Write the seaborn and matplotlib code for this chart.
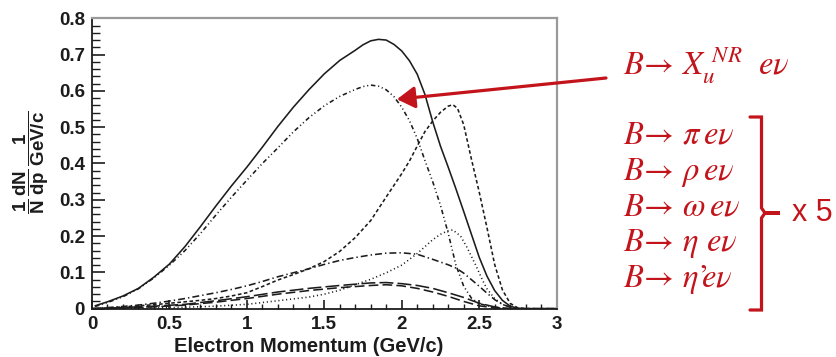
import numpy as np
import pandas as pd
import seaborn as sns
import matplotlib
matplotlib.use("Agg")
import matplotlib.pyplot as plt
from matplotlib.lines import Line2D

# ---- spectra: electron momentum (GeV/c) vs normalised yield ----
total_x = [0.02, 0.1, 0.2, 0.3, 0.4, 0.5, 0.6, 0.7, 0.8, 0.9, 1.0, 1.1, 1.2, 1.3, 1.4,
           1.5, 1.6, 1.7, 1.75, 1.8, 1.85, 1.9, 1.95, 2.0, 2.05, 2.1, 2.15, 2.2, 2.25,
           2.3, 2.35, 2.4, 2.45, 2.5, 2.55, 2.6, 2.65, 2.7, 2.75, 2.8, 3.0]
total_y = [0.008, 0.019, 0.035, 0.056, 0.087, 0.123, 0.171, 0.226, 0.283, 0.338, 0.39,
           0.445, 0.502, 0.555, 0.603, 0.647, 0.684, 0.712, 0.727, 0.738, 0.742, 0.740,
           0.728, 0.71, 0.683, 0.646, 0.59, 0.515, 0.448, 0.39, 0.33, 0.268, 0.205, 0.142,
           0.09, 0.05, 0.023, 0.007, 0.001, 0.0, 0.0]

xu_nr_x = [0.02, 0.1, 0.2, 0.3, 0.4, 0.5, 0.6, 0.7, 0.8, 0.9, 1.0, 1.1, 1.2, 1.3, 1.4, 1.5,
           1.6, 1.7, 1.75, 1.8, 1.85, 1.9, 1.95, 2.0, 2.05, 2.1, 2.15, 2.2, 2.25, 2.3, 2.35,
           2.4, 2.45, 2.5, 2.6, 2.7, 3.0]
xu_nr_y = [0.006, 0.017, 0.033, 0.055, 0.085, 0.12, 0.16, 0.207, 0.258, 0.307, 0.354,
           0.4, 0.443, 0.487, 0.526, 0.559, 0.585, 0.604, 0.612, 0.616, 0.613, 0.603,
           0.584, 0.555, 0.518, 0.469, 0.408, 0.35, 0.285, 0.208, 0.12, 0.062, 0.029,
           0.014, 0.003, 0.0, 0.0]

rho_x = [0.0, 0.1, 0.2, 0.3, 0.4, 0.5, 0.6, 0.7, 0.8, 0.9, 1.0, 1.1, 1.2, 1.3, 1.4, 1.5,
         1.6, 1.7, 1.8, 1.9, 2.0, 2.05, 2.1, 2.15, 2.2, 2.25, 2.3, 2.33, 2.36, 2.4, 2.45,
         2.5, 2.55, 2.6, 2.65, 2.7, 2.75, 2.8, 3.0]
rho_y = [0.0, 0.002, 0.005, 0.008, 0.011, 0.015, 0.019, 0.023, 0.028, 0.035, 0.044, 0.061,
         0.079, 0.094, 0.11, 0.13, 0.158, 0.196, 0.243, 0.308, 0.372, 0.407, 0.448, 0.488,
         0.517, 0.541, 0.558, 0.562, 0.552, 0.507, 0.412, 0.322, 0.224, 0.122, 0.052,
         0.015, 0.002, 0.0, 0.0]

omega_x = [0.0, 0.1, 0.2, 0.3, 0.4, 0.5, 0.6, 0.7, 0.8, 0.9, 1.0, 1.1, 1.2, 1.3, 1.4, 1.5,
           1.6, 1.7, 1.8, 1.9, 2.0, 2.1, 2.2, 2.3, 2.35, 2.4, 2.45, 2.5, 2.55, 2.6, 2.65,
           2.7, 2.75, 3.0]
omega_y = [0.0, 0.003, 0.006, 0.01, 0.015, 0.021, 0.028, 0.036, 0.044, 0.053, 0.063, 0.075,
           0.088, 0.099, 0.11, 0.122, 0.133, 0.141, 0.148, 0.153, 0.154, 0.15, 0.136,
           0.121, 0.112, 0.098, 0.08, 0.062, 0.043, 0.025, 0.012, 0.004, 0.0, 0.0]

pi_x = [0.0, 0.2, 0.4, 0.6, 0.8, 1.0, 1.2, 1.4, 1.5, 1.6, 1.7, 1.8, 1.9, 2.0, 2.1, 2.2,
        2.25, 2.3, 2.33, 2.38, 2.42, 2.48, 2.52, 2.55, 2.6, 2.65, 2.7, 2.75, 3.0]
pi_y = [0.0, 0.001, 0.002, 0.004, 0.007, 0.012, 0.022, 0.032, 0.04, 0.051, 0.066, 0.081,
        0.099, 0.12, 0.152, 0.19, 0.205, 0.215, 0.217, 0.2, 0.17, 0.118, 0.08, 0.055,
        0.028, 0.012, 0.004, 0.0, 0.0]

eta_x = [0.0, 0.2, 0.4, 0.6, 0.8, 1.0, 1.2, 1.4, 1.6, 1.8, 1.9, 2.0, 2.1, 2.2, 2.3, 2.4,
         2.5, 2.6, 2.7, 3.0]
eta_y = [0.0, 0.003, 0.007, 0.012, 0.022, 0.033, 0.046, 0.056, 0.064, 0.071, 0.072, 0.069,
         0.064, 0.056, 0.044, 0.031, 0.015, 0.005, 0.0, 0.0]

etap_x = [0.0, 0.2, 0.4, 0.6, 0.8, 1.0, 1.2, 1.4, 1.6, 1.8, 1.9, 2.0, 2.1, 2.2, 2.3, 2.4,
          2.5, 2.6, 2.7, 3.0]
etap_y = [0.0, 0.002, 0.005, 0.01, 0.018, 0.028, 0.04, 0.05, 0.058, 0.064, 0.066, 0.063,
          0.056, 0.046, 0.034, 0.02, 0.008, 0.002, 0.0, 0.0]

x_ticks = [0, 0.5, 1, 1.5, 2, 2.5, 3]
x_ticklabels = ["0", "0.5", "1", "1.5", "2", "2.5", "3"]
y_ticks = [0, 0.1, 0.2, 0.3, 0.4, 0.5, 0.6, 0.7, 0.8]
y_ticklabels = ["0", "0.1", "0.2", "0.3", "0.4", "0.5", "0.6", "0.7", "0.8"]

x_title = "Electron Momentum (GeV/c)"
y_title = (r"$\dfrac{\mathbf{1}}{\mathbf{N}}\,\dfrac{\mathbf{dN}}{\mathbf{dp}}\,"
           r"\dfrac{\mathbf{1}}{\mathbf{GeV/c}}$")

incl_label = r"$B\!\rightarrow\, X_u^{\ NR}\ \ e\nu$"
excl_labels = [r"$B\!\rightarrow\, \pi\, e\nu$",
               r"$B\!\rightarrow\, \rho\, e\nu$",
               r"$B\!\rightarrow\, \omega\, e\nu$",
               r"$B\!\rightarrow\, \eta\ e\nu$",
               "$B\\!\\rightarrow\\, \\eta\u2019\\!\\!e\\nu$"]
scale_label = "x 5"

RED = "#c3141b"
INK = "#1c1c1c"

sns.set_theme(style="ticks")
plt.rcParams["font.family"] = ["Liberation Sans", "DejaVu Sans"]
plt.rcParams["lines.scale_dashes"] = False
plt.rcParams["mathtext.fontset"] = "custom"
plt.rcParams["mathtext.rm"] = "Liberation Sans"
plt.rcParams["mathtext.bf"] = "Liberation Sans:bold"
plt.rcParams["mathtext.it"] = "Liberation Sans:italic"

W, H = 837, 357
fig = plt.figure(figsize=(W / 100, H / 100), dpi=100)
ax = fig.add_axes([92 / W, (H - 308.7) / H, (556.6 - 92) / W, (308.7 - 18.3) / H])

curves = [
    (total_x, total_y, "-"),
    (xu_nr_x, xu_nr_y, (0, (3.2, 2.0, 0.8, 2.0, 0.8, 2.0))),
    (rho_x, rho_y, (0, (2.6, 1.8))),
    (omega_x, omega_y, (0, (5.0, 2.2, 1.0, 2.2))),
    (pi_x, pi_y, (0, (0.8, 2.0))),
    (eta_x, eta_y, (0, (10.0, 3.0))),
    (etap_x, etap_y, (0, (7.0, 3.0))),
]
for xs, ys, ls in curves:
    sns.lineplot(x=xs, y=ys, ax=ax, color=INK, lw=1.15, linestyle=ls)

ax.set_xlim(0, 3)
ax.set_ylim(0, 0.8)
ax.set_xticks(x_ticks)
ax.set_xticklabels(x_ticklabels)
ax.set_yticks(y_ticks)
ax.set_yticklabels(y_ticklabels)
ax.set_xticks(np.arange(0, 3.001, 0.1), minor=True)
ax.set_yticks(np.arange(0, 0.8001, 0.02), minor=True)
ax.tick_params(axis="y", which="major", direction="in", length=9.5, width=1.2,
               color=INK, pad=5, labelsize=13.5, labelcolor=INK)
ax.tick_params(axis="y", which="minor", direction="in", length=5.5, width=1.0, color=INK)
ax.tick_params(axis="x", which="major", direction="in", length=6.5, width=1.2,
               color=INK, pad=5, labelsize=13.5, labelcolor=INK)
ax.tick_params(axis="x", which="minor", direction="in", length=3.6, width=1.0, color=INK)
for lab in ax.get_xticklabels() + ax.get_yticklabels():
    lab.set_fontweight("bold")

for side in ("left", "bottom"):
    ax.spines[side].set_color(INK)
    ax.spines[side].set_linewidth(1.3)
for side in ("top", "right"):
    ax.spines[side].set_color("#9a9a9a")
    ax.spines[side].set_linewidth(1.6)

ax.set_xlabel(x_title, fontsize=14.5, fontweight="bold", color=INK)
ax.xaxis.set_label_coords(0.467, -0.097)
ax.set_ylabel(y_title, fontsize=13.5, color=INK, math_fontfamily="custom")
ax.yaxis.set_label_coords(-0.088, 0.505)

# annotation block on the right
def fx(px):
    return px / W

def fy(py):
    return 1 - py / H

fig.text(fx(623), fy(75), incl_label, color=RED, fontsize=23.5, math_fontfamily="stix",
         ha="left", va="baseline")
for i, lab in enumerate(excl_labels):
    fig.text(fx(623), fy(144 + 35.8 * i), lab, color=RED, fontsize=23.5,
             math_fontfamily="stix", ha="left", va="baseline")

bx = [750, 761.5, 761.5, 765, 780, 765, 761.5, 761.5, 750]
by = [117, 117, 208, 213, 213, 213, 218, 310, 310]
fig.add_artist(Line2D([fx(v) for v in bx], [fy(v) for v in by], color=RED, lw=2.3,
                      solid_joinstyle="miter", transform=fig.transFigure))
fig.text(fx(792), fy(213), scale_label, color=RED, fontsize=22, ha="left", va="center")

ax.annotate("", xy=(1.969, 0.577), xycoords="data",
            xytext=(fx(606), fy(78)), textcoords="figure fraction",
            arrowprops=dict(arrowstyle="-|>,head_length=0.9,head_width=0.55",
                            color=RED, lw=2.3, shrinkA=0, shrinkB=0))

fig.savefig("out.png", dpi=100)
